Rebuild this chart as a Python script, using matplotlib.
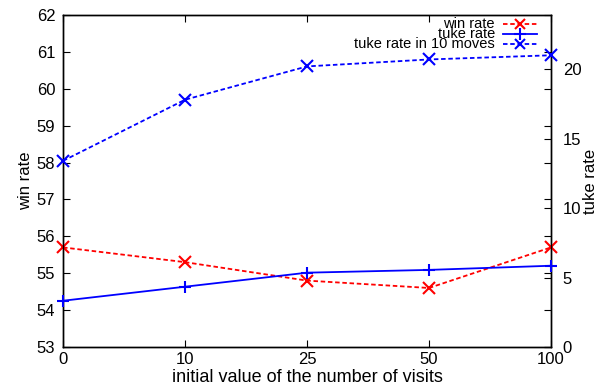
import matplotlib
matplotlib.use("Agg")
import matplotlib.pyplot as plt
from matplotlib.lines import Line2D

plt.rcParams['font.family'] = ['Liberation Sans', 'DejaVu Sans']

visits = ["0", "10", "25", "50", "100"]
win_rate = [55.7, 55.3, 54.8, 54.6, 55.7]
tuke_rate = [3.33, 4.34, 5.35, 5.55, 5.85]
tuke_rate_10 = [13.4, 17.8, 20.2, 20.7, 21.0]
legend_labels = ["win rate", "tuke rate", "tuke rate in 10 moves"]

W, H = 612, 387
fig = plt.figure(figsize=(W / 100, H / 100), dpi=100)
ax = fig.add_axes([63 / W, 40 / H, 488 / W, 332 / H])
ax2 = ax.twinx()
x = list(range(len(visits)))

dash = (0, (2.5, 1.5))
styles = [
    dict(color='#ff0000', ls=dash, marker='x', ms=8),
    dict(color='#0000ff', ls='-', marker='+', ms=9),
    dict(color='#0000ff', ls=dash, marker='x', ms=8),
]

ax.plot(x, win_rate, lw=1.3, mew=1.5, clip_on=False, zorder=5, **styles[0])
ax2.plot(x, tuke_rate, lw=1.3, mew=1.5, clip_on=False, zorder=5, **styles[1])
ax2.plot(x, tuke_rate_10, lw=1.3, mew=1.5, clip_on=False, zorder=5, **styles[2])

ax.set_xlim(0, 4)
ax.set_ylim(53, 62)
ax.set_xticks(x)
ax.set_xticklabels(visits)
ax.set_yticks(range(53, 63))
ax2.set_ylim(0, 23.9)
ax2.set_yticks([0, 5, 10, 15, 20])

ax.tick_params(axis='y', direction='in', right=True, labelsize=12, length=5, pad=5.5)
ax.tick_params(axis='x', direction='in', top=True, labelsize=12, length=5, pad=3.5)
ax2.tick_params(direction='in', labelsize=12, length=5, pad=8.5)
for a in (ax, ax2):
    for s in a.spines.values():
        s.set_linewidth(1.0)

ax.set_xlabel("initial value of the number of visits", fontsize=13, labelpad=1.5)
ax.set_ylabel("win rate", fontsize=12, labelpad=3)
ax2.set_ylabel("tuke rate", fontsize=12, labelpad=1)

# gnuplot-style key: text right-aligned, sample to the right
rows_px = [24, 34, 44]
for lab, st, yp in zip(legend_labels, styles, rows_px):
    yf = 1 - yp / H
    fig.text(495 / W, yf, lab, ha='right', va='center', fontsize=10.5, zorder=10)
    fig.add_artist(Line2D([503 / W, 537 / W], [yf, yf], transform=fig.transFigure,
                          color=st['color'], ls=st['ls'], lw=1.3, zorder=10))
    fig.add_artist(Line2D([520 / W], [yf], transform=fig.transFigure,
                          color=st['color'], marker=st['marker'], ms=st['ms'] - 1,
                          mew=1.5, ls='none', zorder=10))

fig.savefig("out.png", dpi=100)
